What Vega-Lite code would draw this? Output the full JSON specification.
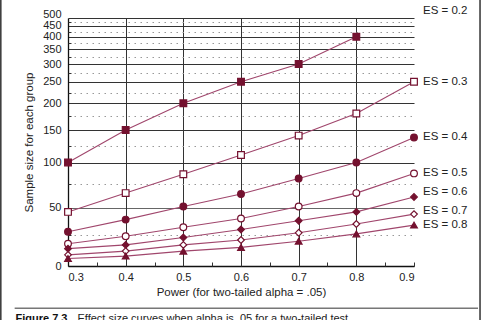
{
  "$schema": "https://vega.github.io/schema/vega-lite/v6.json",
  "width": 346,
  "height": 248,
  "autosize": {"type": "none"},
  "padding": {"left": 68, "top": 18, "right": 68, "bottom": 54},
  "background": "white",
  "config": {
    "view": {"stroke": null},
    "font": "Liberation Sans",
    "axis": {"labelFont": "Liberation Sans", "titleFont": "Liberation Sans", "labelColor": "#222", "titleColor": "#222", "titleFontWeight": "normal", "labelFontSize": 11, "titleFontSize": 11.5}
  },
  "datasets": {
    "curves": [
      {"es": "0.2", "power": 0.3, "n": 100}, {"es": "0.2", "power": 0.4, "n": 150}, {"es": "0.2", "power": 0.5, "n": 200}, {"es": "0.2", "power": 0.6, "n": 250}, {"es": "0.2", "power": 0.7, "n": 300}, {"es": "0.2", "power": 0.8, "n": 400},
      {"es": "0.3", "power": 0.3, "n": 46}, {"es": "0.3", "power": 0.4, "n": 65}, {"es": "0.3", "power": 0.5, "n": 86}, {"es": "0.3", "power": 0.6, "n": 111}, {"es": "0.3", "power": 0.7, "n": 141}, {"es": "0.3", "power": 0.8, "n": 180}, {"es": "0.3", "power": 0.9, "n": 250},
      {"es": "0.4", "power": 0.3, "n": 28}, {"es": "0.4", "power": 0.4, "n": 39}, {"es": "0.4", "power": 0.5, "n": 51}, {"es": "0.4", "power": 0.6, "n": 64}, {"es": "0.4", "power": 0.7, "n": 81}, {"es": "0.4", "power": 0.8, "n": 100}, {"es": "0.4", "power": 0.9, "n": 138},
      {"es": "0.5", "power": 0.3, "n": 18}, {"es": "0.5", "power": 0.4, "n": 24}, {"es": "0.5", "power": 0.5, "n": 32}, {"es": "0.5", "power": 0.6, "n": 40}, {"es": "0.5", "power": 0.7, "n": 51}, {"es": "0.5", "power": 0.8, "n": 65}, {"es": "0.5", "power": 0.9, "n": 87},
      {"es": "0.6", "power": 0.3, "n": 14}, {"es": "0.6", "power": 0.4, "n": 17}, {"es": "0.6", "power": 0.5, "n": 23}, {"es": "0.6", "power": 0.6, "n": 30}, {"es": "0.6", "power": 0.7, "n": 38}, {"es": "0.6", "power": 0.8, "n": 46}, {"es": "0.6", "power": 0.9, "n": 61},
      {"es": "0.7", "power": 0.3, "n": 9}, {"es": "0.7", "power": 0.4, "n": 12}, {"es": "0.7", "power": 0.5, "n": 17}, {"es": "0.7", "power": 0.6, "n": 21}, {"es": "0.7", "power": 0.7, "n": 27}, {"es": "0.7", "power": 0.8, "n": 35}, {"es": "0.7", "power": 0.9, "n": 44},
      {"es": "0.8", "power": 0.3, "n": 6}, {"es": "0.8", "power": 0.4, "n": 8}, {"es": "0.8", "power": 0.5, "n": 12}, {"es": "0.8", "power": 0.6, "n": 15}, {"es": "0.8", "power": 0.7, "n": 20}, {"es": "0.8", "power": 0.8, "n": 26}, {"es": "0.8", "power": 0.9, "n": 34}
    ],
    "labels": [
      {"es": "0.2", "power": 0.9, "n": 550, "label": "ES = 0.2"},
      {"es": "0.3", "power": 0.9, "n": 250, "label": "ES = 0.3"},
      {"es": "0.4", "power": 0.9, "n": 138, "label": "ES = 0.4"},
      {"es": "0.5", "power": 0.9, "n": 87, "label": "ES = 0.5"},
      {"es": "0.6", "power": 0.9, "n": 66, "label": "ES = 0.6"},
      {"es": "0.7", "power": 0.9, "n": 47, "label": "ES = 0.7"},
      {"es": "0.8", "power": 0.9, "n": 34, "label": "ES = 0.8"}
    ]
  },
  "resolve": {"axis": {"x": "independent", "y": "independent"}},
  "layer": [
    {
      "data": {"name": "curves"},
      "mark": {"type": "line", "color": "#a0466c", "strokeWidth": 1.1},
      "encoding": {
        "x": {
          "field": "power", "type": "quantitative",
          "scale": {"domain": [0.3, 0.9], "nice": false, "zero": false},
          "axis": {"orient": "bottom", "values": [0.3, 0.4, 0.5, 0.6, 0.7, 0.8, 0.9], "format": ".1f", "grid": false, "ticks": false, "domain": true, "domainColor": "#111", "domainWidth": 1.3, "labelPadding": 5, "title": "Power (for two-tailed alpha = .05)", "titlePadding": 4}
        },
        "y": {
          "field": "n", "type": "quantitative",
          "scale": {"domain": [0, 25, 50, 75, 100, 125, 150, 175, 200, 225, 250, 275, 300, 325, 350, 375, 400, 425, 450, 475, 500], "range": [248, 217, 189.5, 165.5, 144.5, 127.5, 112, 98, 85.3, 74.5, 63.7, 54.7, 46, 38.6, 31.4, 25.2, 18.7, 13.6, 7.8, 3.6, 0], "nice": false, "zero": false},
          "axis": {"orient": "left", "values": [0, 100, 150, 200, 250, 300, 350, 400, 450, 500], "labelOverlap": false, "labelFlush": false, "labelOffset": {"condition": {"test": "datum.value === 500", "value": -4}, "value": 0}, "grid": true, "gridColor": "#333", "gridWidth": 1, "ticks": false, "domain": true, "domainColor": "#111", "domainWidth": 1.3, "labelPadding": 7, "title": "Sample size for each group", "titlePadding": 8}
        },
        "detail": {"field": "es", "type": "nominal"}
      }
    },
    {
      "data": {"name": "curves"},
      "mark": {"type": "point", "size": 45, "stroke": "#74112f", "strokeWidth": 1.2, "opacity": 1, "fillOpacity": 1},
      "encoding": {
        "x": {
          "field": "power", "type": "quantitative",
          "axis": {"orient": "bottom", "values": [0.4, 0.5, 0.6, 0.7, 0.8], "grid": true, "gridColor": "#333", "gridWidth": 1, "labels": false, "ticks": false, "domain": false, "title": "Effect size curves when alpha is .05 for a two-tailed test.", "titleX": 9, "titleY": 52, "titleAlign": "left", "titleAnchor": null, "titleBaseline": "middle", "titleFontSize": 11, "titleColor": "#222"}
        },
        "y": {
          "field": "n", "type": "quantitative",
          "axis": {"orient": "left", "values": [25, 50, 75, 125, 175, 225, 275, 325, 375, 425, 475], "labelOverlap": false, "labelPadding": 10, "labelFontSize": 11, "labelColor": "#222", "labelExpr": "datum.value === 50 ? '50' : ''", "grid": true, "gridColor": {"condition": {"test": "datum.value === 50", "value": "#333"}, "value": "#999"}, "gridDash": {"condition": {"test": "datum.value === 50", "value": [1, 0]}, "value": [1.5, 4.5]}, "gridWidth": 1, "ticks": true, "tickSize": -3, "tickColor": "#333", "domain": false, "title": null}
        },
        "shape": {"field": "es", "type": "nominal", "legend": null, "scale": {"domain": ["0.2", "0.3", "0.4", "0.5", "0.6", "0.7", "0.8"], "range": ["square", "square", "circle", "circle", "diamond", "diamond", "triangle-up"]}},
        "fill": {"field": "es", "type": "nominal", "legend": null, "scale": {"domain": ["0.2", "0.3", "0.4", "0.5", "0.6", "0.7", "0.8"], "range": ["#74112f", "#ffffff", "#74112f", "#ffffff", "#74112f", "#ffffff", "#74112f"]}}
      }
    },
    {
      "data": {"name": "labels"},
      "mark": {"type": "text", "align": "left", "baseline": "middle", "dx": 9, "fontSize": 11.5, "color": "#222", "font": "Liberation Sans"},
      "encoding": {
        "x": {
          "field": "power", "type": "quantitative",
          "axis": {"orient": "bottom", "values": [0.35, 0.4, 0.45, 0.5, 0.55, 0.6, 0.65, 0.7, 0.75, 0.8, 0.85, 0.9], "grid": false, "labels": false, "ticks": true, "tickSize": -4, "tickColor": "#333", "domain": false, "title": "Figure 7.3", "titleX": -53, "titleY": 52, "titleAlign": "left", "titleAnchor": null, "titleBaseline": "middle", "titleFontSize": 11, "titleFontWeight": "bold", "titleColor": "#111"}
        },
        "y": {"field": "n", "type": "quantitative", "axis": null},
        "text": {"field": "label", "type": "nominal"}
      }
    },
    {
      "data": {"values": [{}]},
      "mark": {"type": "rule", "color": "#777", "strokeWidth": 1.5},
      "encoding": {
        "x": {"datum": 0.2075, "type": "quantitative", "axis": null},
        "x2": {"datum": 1.011},
        "y": {"datum": -34, "type": "quantitative", "axis": null}
      }
    },
    {
      "data": {"values": [{"edge": 0.1835}, {"edge": 1.0145}]},
      "mark": {"type": "rule", "color": "#333", "strokeWidth": 1.5},
      "encoding": {
        "x": {"field": "edge", "type": "quantitative", "axis": null},
        "y": {"datum": -60, "type": "quantitative", "axis": null},
        "y2": {"datum": 700}
      }
    }
  ]
}
